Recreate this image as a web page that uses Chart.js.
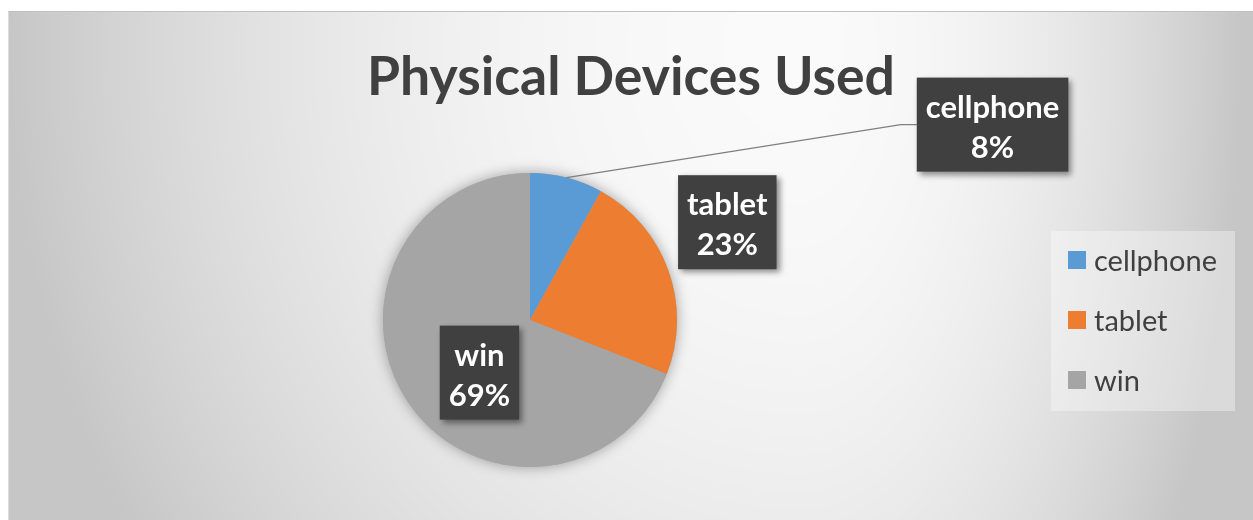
<!DOCTYPE html>
<html>
<head>
<meta charset="utf-8">
<script src="https://cdn.jsdelivr.net/npm/chart.js@4.4.1/dist/chart.umd.min.js"></script>
<style>
  html, body { margin: 0; padding: 0; background: #fff; overflow: hidden; }
  #frame { position: absolute; left: 8px; top: 11px; border-top: 1px solid #c0c0c0; border-left: 1px solid #dcdcdc; }
  canvas { display: block; }
</style>
</head>
<body>
<div id="frame"><canvas id="myChart" width="1244" height="508"></canvas></div>
<script>
const chartTitle = "Physical Devices Used";
const devices = ["cellphone", "tablet", "win"];
const shares = [8, 23, 69];
const sliceColors = ["#5B9BD5", "#ED7D31", "#A5A5A5"];

// label box placement, relative to the outer middle point of each slice
const labelOffsets = [[426, -53], [59, -48], [71, -30]];
const leaderLines = [true, false, false];

const total = shares.reduce((a, b) => a + b, 0);

const decorations = {
  id: "decorations",
  beforeDraw(chart) {
    // soft grey backdrop, lightest near the title
    const ctx = chart.ctx, w = chart.width, h = chart.height;
    const img = ctx.createImageData(w, h);
    const cx = 791, cy = 38;
    for (let y = 0; y < h; y++) {
      for (let x = 0; x < w; x++) {
        const ax = x < cx ? 792 : 440;
        const dx = (x - cx) / ax, dy = (y - cy) / 900;
        let t = Math.min(1, Math.sqrt(dx * dx + dy * dy));
        t = t * t;
        const c = Math.round(250 - t * (250 - 198));
        const i = (y * w + x) * 4;
        img.data[i] = img.data[i + 1] = img.data[i + 2] = c;
        img.data[i + 3] = 255;
      }
    }
    ctx.putImageData(img, 0, 0);
  },
  beforeDatasetsDraw(chart) {
    const arc = chart.getDatasetMeta(0).data[0];
    const ctx = chart.ctx;
    ctx.save();
    ctx.shadowColor = "rgba(0,0,0,0.35)";
    ctx.shadowBlur = 14;
    ctx.fillStyle = "#a5a5a5";
    ctx.beginPath();
    ctx.arc(arc.x, arc.y, arc.outerRadius, 0, Math.PI * 2);
    ctx.fill();
    ctx.restore();
  },
  afterDatasetsDraw(chart) {
    const ctx = chart.ctx;
    ctx.save();

    // title
    ctx.font = "bold 53.5px Lato";
    ctx.fillStyle = "#404040";
    ctx.textAlign = "center";
    ctx.textBaseline = "alphabetic";
    ctx.fillText(chartTitle, chart.width / 2, 83);

    // data labels
    const arcs = chart.getDatasetMeta(0).data;
    arcs.forEach((el, i) => {
      const mid = (el.startAngle + el.endAngle) / 2;
      const px = el.x + Math.cos(mid) * el.outerRadius;
      const py = el.y + Math.sin(mid) * el.outerRadius;
      const line1 = devices[i];
      const line2 = Math.round(shares[i] / total * 100) + "%";
      ctx.font = "bold 31px Lato";
      const bw = Math.max(ctx.measureText(line1).width, ctx.measureText(line2).width) + 18;
      const bh = 94;
      const left = px + labelOffsets[i][0] - bw / 2;
      const top = py + labelOffsets[i][1] - bh / 2;

      if (leaderLines[i]) {
        ctx.strokeStyle = "#7f7f7f";
        ctx.lineWidth = 1.3;
        ctx.beginPath();
        ctx.moveTo(px, py);
        ctx.lineTo(left - 16, top + bh / 2);
        ctx.lineTo(left, top + bh / 2);
        ctx.stroke();
      }

      ctx.save();
      ctx.shadowColor = "rgba(0,0,0,0.45)";
      ctx.shadowOffsetX = 3;
      ctx.shadowOffsetY = 3;
      ctx.shadowBlur = 6;
      ctx.fillStyle = "#404040";
      ctx.fillRect(left, top, bw, bh);
      ctx.restore();

      ctx.fillStyle = "#ffffff";
      ctx.textAlign = "center";
      ctx.fillText(line1, left + bw / 2, top + 40);
      ctx.fillText(line2, left + bw / 2, top + 80);
    });

    // legend
    ctx.fillStyle = "rgba(255,255,255,0.35)";
    ctx.fillRect(1042, 219, 184, 180);
    ctx.font = "29px Lato";
    ctx.textAlign = "left";
    devices.forEach((name, i) => {
      const y = 239 + i * 60;
      ctx.fillStyle = sliceColors[i];
      ctx.fillRect(1059, y, 18, 18);
      ctx.fillStyle = "#404040";
      ctx.fillText(name, 1085, y + 20);
    });

    ctx.restore();
  }
};

new Chart("myChart", {
  type: "pie",
  data: {
    labels: devices,
    datasets: [{ data: shares, backgroundColor: sliceColors, borderWidth: 0 }]
  },
  options: {
    responsive: false,
    animation: false,
    layout: { padding: { left: 374, right: 576, top: 161, bottom: 53 } },
    plugins: {
      legend: { display: false },
      title: { display: false },
      tooltip: { enabled: false }
    }
  },
  plugins: [decorations]
});
</script>
</body>
</html>
